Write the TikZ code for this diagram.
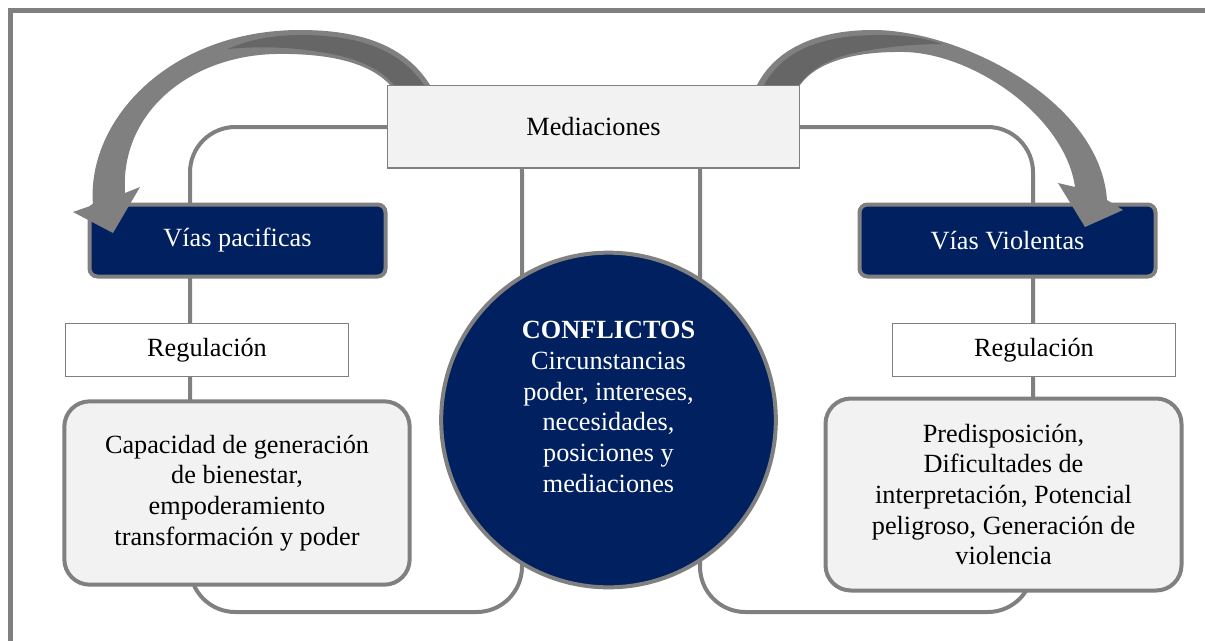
\documentclass[tikz,border=0pt]{standalone}
\usepackage{fontspec}
\setmainfont{Liberation Serif}
\usetikzlibrary{positioning,calc}

\definecolor{navy}{HTML}{002060}
\definecolor{paleg}{HTML}{F2F2F2}
\definecolor{edgeg}{HTML}{808080}
\definecolor{bandg}{HTML}{666666}

\tikzset{
  frameline/.style={draw=edgeg,line width=3.75pt},
  loopline/.style={draw=edgeg,line width=3pt,rounded corners=34pt},
  medbox/.style={draw=edgeg,line width=1pt,fill=paleg,minimum width=309pt,minimum height=62pt},
  viabox/.style={draw=edgeg,line width=3pt,fill=navy,text=white,rounded corners=6pt,minimum width=222pt,minimum height=54pt},
  regbox/.style={draw=edgeg,line width=0.8pt,fill=white,minimum width=212pt,minimum height=39.5pt},
  infobox/.style={draw=edgeg,line width=3pt,fill=paleg,rounded corners=19pt,align=center},
  confcirc/.style={circle,draw=edgeg,line width=3pt,fill=navy,minimum size=251pt},
  conftext/.style={text=white,align=center},
  bigarrow/.style={fill=edgeg},
  arrowband/.style={fill=bandg}
}

\begin{document}
\begin{tikzpicture}[x=0.75pt,y=-0.75pt,font=\fontsize{19.7}{23}\selectfont]
  \useasboundingbox (0,0) rectangle (1205,640);
  % frame, cut by the page
  \draw[frameline] (10,660) -- (10,10) -- (1220,10);

  % the two loops behind the boxes
  \draw[loopline] (190,127) rectangle (522,612);
  \draw[loopline] (700,127) rectangle (1033,612);

  % nodes
  \node[medbox] (med) at (593.5,126.5) {Mediaciones};
  \node[viabox] (pac) at (237.5,240.5) {Vías pacificas};
  \node[viabox] (vio) at (1007.5,240.5) {Vías Violentas};
  \node[regbox] (regL) at (207,350) {Regulación};
  \node[regbox] (regR) at (1034,350) {Regulación};
  \node[infobox,minimum width=259pt,minimum height=137.5pt] (capL) at (237,493)
    {Capacidad de generación\\de bienestar,\\empoderamiento\\transformación y poder};
  \node[infobox,minimum width=267pt,minimum height=144pt] (capR) at (1003.5,494.5)
    {Predisposición,\\Dificultades de\\interpretación, Potencial\\peligroso, Generación de\\violencia};
  \node[confcirc] (conf) at (608.5,420) {};
  \node[conftext] (conftxt) at (608.5,407)
    {\textbf{CONFLICTOS}\\Circunstancias\\poder, intereses,\\necesidades,\\posiciones y\\mediaciones};

  % curved arrow to the left
  \fill[bigarrow] (430,85) .. controls (405,45) and (360,30) .. (300,30)
    .. controls (170,30) and (86,120) .. (93,205) -- (73,212) -- (113,233) -- (140,187) -- (125,193)
    .. controls (120,112) and (190,56) .. (275,54) .. controls (330,53) and (370,63) .. (390,85) -- cycle;
  \fill[arrowband] (424,85) .. controls (400,50) and (360,35) .. (300,35) .. controls (270,35) and (245,41) .. (228,49)
    .. controls (260,46) and (290,47) .. (320,52) .. controls (355,57) and (380,68) .. (394,85) -- cycle;

  % curved arrow to the right
  \fill[bigarrow] (757,85) .. controls (775,50) and (815,30) .. (873,30)
    .. controls (960,30) and (1100,100) .. (1107,200) -- (1123,210) -- (1085,227) -- (1058,183) -- (1075,187)
    .. controls (1065,117) and (975,54) .. (905,52) .. controls (850,51) and (815,64) .. (800,85) -- cycle;
  \fill[arrowband] (764,85) .. controls (785,48) and (825,35) .. (880,35) .. controls (905,35) and (925,38) .. (942,44)
    .. controls (915,44) and (880,47) .. (850,54) .. controls (825,60) and (808,72) .. (799,85) -- cycle;
\end{tikzpicture}
\end{document}
